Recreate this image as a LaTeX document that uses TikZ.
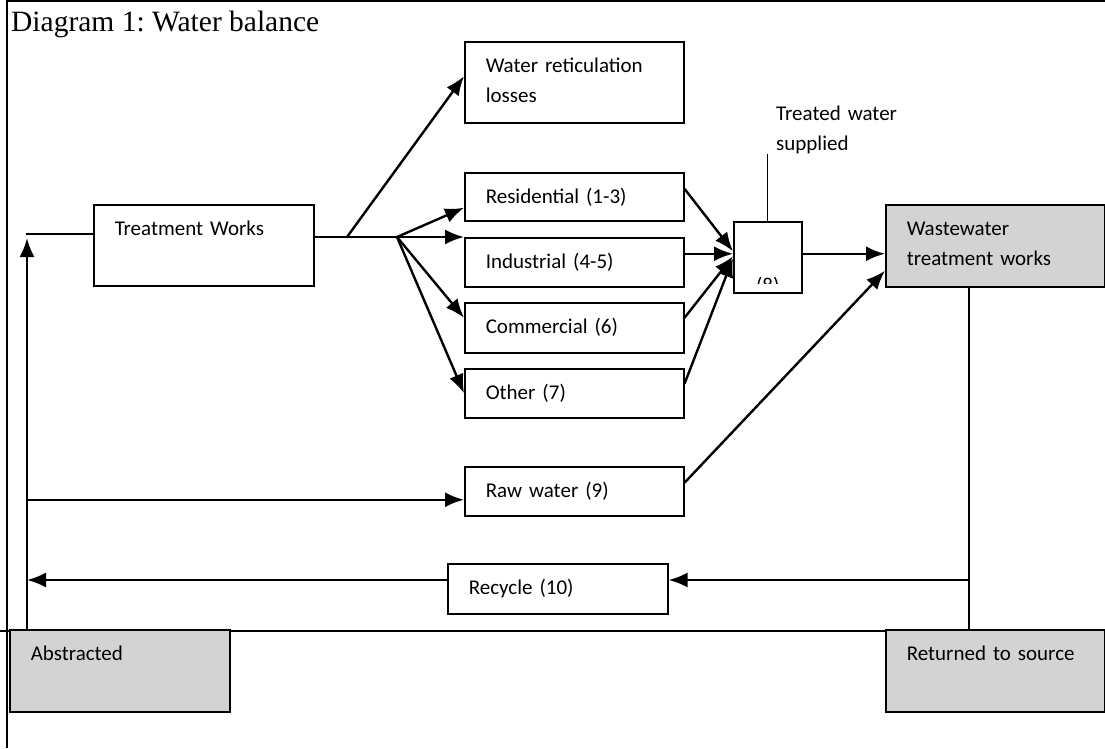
\documentclass[tikz,border=0pt]{standalone}
\usepackage{fontspec}
\setmainfont{Liberation Serif}
\newfontfamily\calibri{Carlito}
\usetikzlibrary{arrows.meta}
\definecolor{boxgrey}{RGB}{211,211,211}
\frenchspacing
\tikzset{
	txt/.style={font=\calibri\fontsize{21}{30}\selectfont},
	wbox/.style 2 args={draw,line width=1.5pt,anchor=north west,align=left,txt,
		inner xsep=21pt,inner ysep=0pt,text width=#1pt-42pt,text height=31pt,text depth=#2pt-31pt},
	flow/.style={line width=2.4pt}
}
\begin{document}
\begin{tikzpicture}[x=1pt,y=-1pt,>={Latex[length=19pt,width=15pt]}]
		\useasboundingbox (0,0) rectangle (1105,748);
		\draw[line width=2.5pt] (7,748) -- (7,1.2) -- (1105,1.2);
		\draw[line width=2pt] (0,631) -- (1105,631);
		\node[font=\fontsize{29.5}{34}\selectfont,anchor=base west,inner sep=0pt] (title) at (11,31) {Diagram 1: Water balance};
		
		\node[wbox={220}{81}] (tw) at (93,204) {Treatment Works};
		\node[wbox={219}{81}] (wrl) at (464,41) {Water reticulation\\losses};
		\node[wbox={219}{48}] (res) at (464,172) {Residential (1-3)};
		\node[wbox={219}{49}] (ind) at (464,237) {Industrial (4-5)};
		\node[wbox={219}{50}] (com) at (464,302) {Commercial (6)};
		\node[wbox={219}{49}] (oth) at (464,368) {Other (7)};
		\node[wbox={219}{49}] (raw) at (464,466) {Raw water (9)};
		\node[wbox={220}{50}] (rec) at (447,563) {Recycle (10)};
		\node[wbox={219}{82},fill=boxgrey] (wwtw) at (885,204) {Wastewater\\treatment works};
		\node[wbox={220}{82},fill=boxgrey] (abs) at (9,629) {Abstracted};
		\node[wbox={219}{82},fill=boxgrey] (ret) at (885,629) {Returned to source};
		\node[draw,line width=1.5pt,anchor=north west,inner sep=0pt,minimum width=68pt,minimum height=71pt] (eight) at (733,221) {};
		\begin{scope}
			\clip (eight.north west) rectangle ([yshift=10pt]eight.south east);
			\node[txt,anchor=base,inner sep=0pt] (eightlbl) at ([yshift=1pt]eight.south) {(8)};
		\end{scope}
		\node[txt,anchor=base west,align=left,text width=140pt,inner sep=0pt] (tws) at (776,120) {Treated water\\supplied};
		
		\coordinate (feedtop) at (27,238);
		\coordinate (feedin) at (26,234);
		\coordinate (j1) at (347,237);
		\coordinate (j2) at (397,237);
		\coordinate (rawin) at ([yshift=-8.5pt]raw.west);
		\coordinate (drop) at (969,580);
		
		\draw[flow,->] (feedtop |- abs.north) -- (feedtop);
		\draw[flow] (feedin) -- (feedin -| tw.west);
		\draw[flow] (tw.east |- j1) -- (j2);
		\draw[flow,->] (feedtop |- rawin) -- (rawin);
		\draw[line width=1.2pt] (eight.north) -- (eight.north |- tws.south);
		\draw[line width=1.2pt] (drop |- wwtw.south) -- (drop |- ret.north);
		\draw[flow,->] (drop) -- (drop -| rec.east);
		\draw[flow,->] (rec.west |- drop) -- (feedtop |- drop);
		\path[flow]
			(j1) edge[->] ([yshift=6pt]wrl.west)
			(j2)
				edge[->] ([yshift=-11pt]res.west)
				edge[->] (ind.north west)
				edge[->] ([yshift=10pt]com.west)
				edge[->] (oth.west)
			([yshift=8pt]res.east) edge[->] ([yshift=6pt]eight.west)
			([yshift=8.5pt]ind.east) edge[->] ([yshift=3.5pt]eight.west)
			([yshift=10pt]com.east) edge[->] ([yshift=1pt]eight.west)
			([yshift=9.5pt]oth.east) edge[->] ([yshift=-1pt]eight.west)
			([yshift=3.5pt]eight.east) edge[->] ([yshift=-8pt]wwtw.west)
			([yshift=8.5pt]raw.east) edge[->] ([yshift=-25pt]wwtw.west)
			;
	\end{tikzpicture}
\end{document}
